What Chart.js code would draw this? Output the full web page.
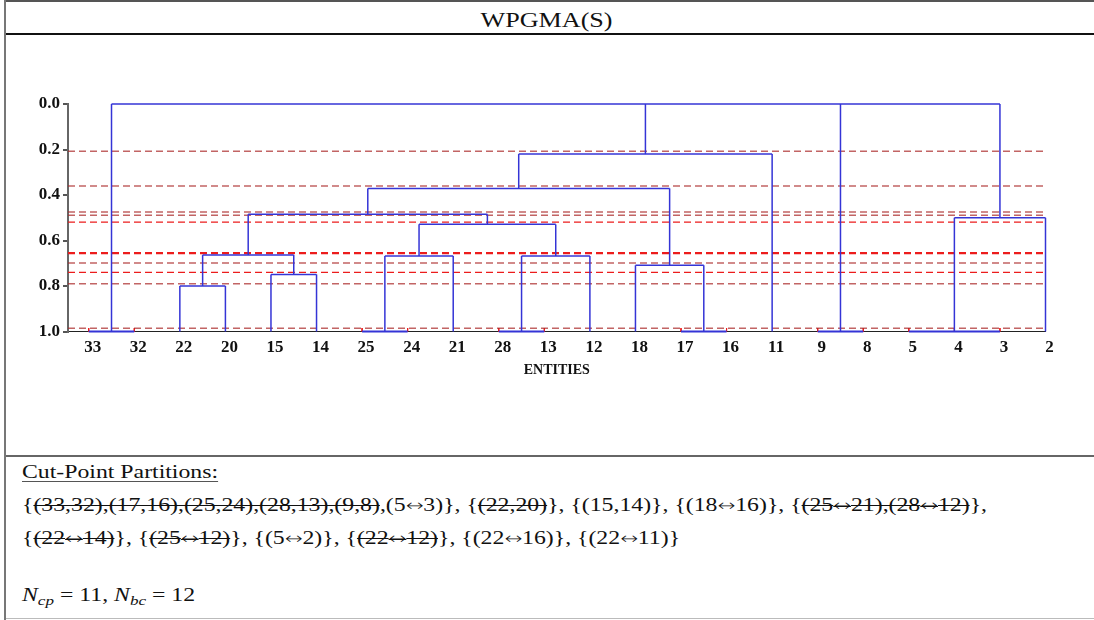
<!DOCTYPE html>
<html>
<head>
<meta charset="utf-8">
<script src="https://cdn.jsdelivr.net/npm/chart.js@4.4.0/dist/chart.umd.min.js"></script>
<style>
html,body{margin:0;padding:0;background:#fff;}
body{width:1094px;height:620px;position:relative;overflow:hidden;font-family:"Liberation Serif","Times New Roman",serif;color:#111;}
.hl{position:absolute;left:4px;right:0;}
#top{top:0;height:2px;background:#555;}
#tdiv{top:33px;height:2px;background:#111;}
#mdiv{top:455px;height:2px;background:#666;}
#bot{top:618px;height:1px;background:#bbb;}
#lb{position:absolute;left:4px;top:0;width:2px;height:620px;background:#777;}
#title{position:absolute;left:0;width:1094px;top:10px;text-align:center;font-size:20px;line-height:20px;white-space:nowrap;}
#title span{display:inline-block;transform-origin:50% 50%;}
#wrap{position:absolute;left:0;top:36px;width:1094px;height:419px;}
.tl{position:absolute;left:22px;white-space:nowrap;font-size:18px;line-height:18px;transform-origin:0 0;}
.tl s{text-decoration-thickness:1px;}
.ar{font-family:"DejaVu Sans",sans-serif;font-size:16px;font-weight:200;}
.ul{text-decoration:underline;text-decoration-thickness:1px;text-underline-offset:3px;text-decoration-color:#555;}
sub{font-size:0.72em;vertical-align:-0.3em;line-height:0;}
</style>
</head>
<body>
<div class="hl" id="top"></div>
<div class="hl" id="tdiv"></div>
<div class="hl" id="mdiv"></div>
<div class="hl" id="bot"></div>
<div id="lb"></div>
<div id="title"><span id="ttext">WPGMA(S)</span></div>
<div id="wrap"><canvas id="c" width="1094" height="419"></canvas></div>
<div class="tl" id="l1" style="top:463px"><span class="ul">Cut-Point Partitions:</span></div>
<div class="tl" id="l2" style="top:496px">{<s>(33,32),(17,16),(25,24),(28,13),(9,8)</s>,(5<span class="ar">↔</span>3)}, {<s>(22,20)</s>}, {(15,14)}, {(18<span class="ar">↔</span>16)}, {<s>(25<span class="ar">↔</span>21),(28<span class="ar">↔</span>12)</s>},</div>
<div class="tl" id="l3" style="top:529px">{<s>(22<span class="ar">↔</span>14)</s>}, {<s>(25<span class="ar">↔</span>12)</s>}, {(5<span class="ar">↔</span>2)}, {<s>(22<span class="ar">↔</span>12)</s>}, {(22<span class="ar">↔</span>16)}, {(22<span class="ar">↔</span>11)}</div>
<div class="tl" id="l4" style="top:586px"><i>N</i><sub><i>cp</i></sub> = 11, <i>N</i><sub><i>bc</i></sub> = 12</div>
<script>
// ---- data ----
const leafLabels = ['33','32','22','20','15','14','25','24','21','28','13','12','18','17','16','11','9','8','5','4','3','2'];
const leafIndex = leafLabels.map((_, i) => i);
// merge k creates cluster id (leafLabels.length + k); children are leaf indices or cluster ids
const mergeChildren = [[0,1],[2,3],[4,5],[23,24],[6,7],[26,8],[9,10],[28,11],[27,29],[25,30],[13,14],[12,32],[31,33],[34,15],[16,17],[18,19,20],[37,21],[22,35,36,38]];
const mergeHeights = [1.0,0.80,0.749,0.664,1.0,0.668,1.0,0.668,0.529,0.485,1.0,0.709,0.371,0.220,1.0,1.0,0.50,0.0];
const cutHeights = [0.208,0.360,0.475,0.489,0.519,0.653,0.658,0.699,0.740,0.790,0.986];
const yTickValues = [0.0,0.2,0.4,0.6,0.8,1.0];

// ---- styles ----
const cutColors = ['b','b','b','b','r','r','r','b','r','b','b'];
const BLUE = '#3434d6';
const BROWN = 'rgba(170,40,40,0.72)';
const RED = '#ec1c1c';

// ---- build segments ----
const nLeaf = leafLabels.length;
const posX = {}, posY = {};
leafIndex.forEach(i => { posX[i] = i; posY[i] = 1.0; });
const datasets = [];
function seg(pts, color, width, dash, order) {
  datasets.push({data: pts, borderColor: color, borderWidth: width, borderDash: dash || [], pointRadius: 0, fill: false, tension: 0, clip: false, order: order, parsing: false});
}
mergeChildren.forEach((ch, k) => {
  const id = nLeaf + k, h = mergeHeights[k];
  const xs = ch.map(c => posX[c]);
  posX[id] = xs.reduce((a, b) => a + b, 0) / xs.length;
  posY[id] = h;
  seg([{x: Math.min(...xs), y: h}, {x: Math.max(...xs), y: h}], BLUE, h === 1.0 ? 2 : 1.5, null, 0);
  ch.forEach(c => {
    if (posY[c] !== h) seg([{x: posX[c], y: posY[c]}, {x: posX[c], y: h}], BLUE, 1.5, null, 0);
    if (h === 1.0 && c < nLeaf) seg([{x: posX[c], y: 0.985}, {x: posX[c], y: 1.0}], RED, 1, null, 2);
  });
});
const xMin = -0.455, xMax = nLeaf - 1;
cutHeights.forEach((h, i) => {
  seg([{x: xMin, y: h}, {x: xMax, y: h}], cutColors[i] === 'r' ? RED : BROWN, cutColors[i] === 'r' ? 1.3 : 1.5, [7,4], 1);
});

const tickFont = {family: 'Liberation Serif', weight: 'bold', size: 17};
new Chart(document.getElementById('c'), {
  type: 'line',
  data: {datasets: datasets},
  options: {
    responsive: false,
    animation: false,
    events: [],
    layout: {padding: {left: 0, right: 48.5, top: 68, bottom: 0}},
    plugins: {legend: {display: false}, tooltip: {enabled: false}, title: {display: false}},
    scales: {
      x: {
        type: 'linear', min: xMin, max: xMax,
        afterBuildTicks: s => { s.ticks = leafIndex.map(v => ({value: v})); },
        afterFit: s => { s.height = 123.5; },
        grid: {display: false, drawTicks: false},
        border: {display: true, color: '#222', width: 1},
        ticks: {autoSkip: false, maxRotation: 0, padding: 6, labelOffset: 4, font: tickFont, color: '#111',
                callback: v => leafLabels[v]},
        title: {display: true, text: 'ENTITIES', color: '#111',
                font: {family: 'Liberation Serif', weight: 'bold', size: 14}, padding: {top: 0, bottom: 76.6}}
      },
      y: {
        type: 'linear', reverse: true, min: 0, max: 1,
        afterBuildTicks: s => { s.ticks = yTickValues.map(v => ({value: v})); },
        afterFit: s => { s.width = 68; },
        grid: {display: true, drawOnChartArea: false, drawTicks: true, tickLength: 5, color: '#555', lineWidth: 2},
        border: {display: true, color: '#666', width: 2},
        ticks: {padding: 3, font: tickFont, color: '#111', callback: v => Number(v).toFixed(1)}
      }
    }
  }
});

// ---- widen serif text to match reference widths ----
function fit() {
  const l2 = document.getElementById('l2');
  const w = l2.getBoundingClientRect().width;
  const s = 965 / w;
  document.querySelectorAll('.tl').forEach(e => { e.style.transform = 'scaleX(' + s + ')'; });
  const t = document.getElementById('ttext');
  const tw = t.getBoundingClientRect().width;
  t.style.transform = 'scaleX(' + (132 / tw) + ')';
}
fit();
</script>
</body>
</html>
